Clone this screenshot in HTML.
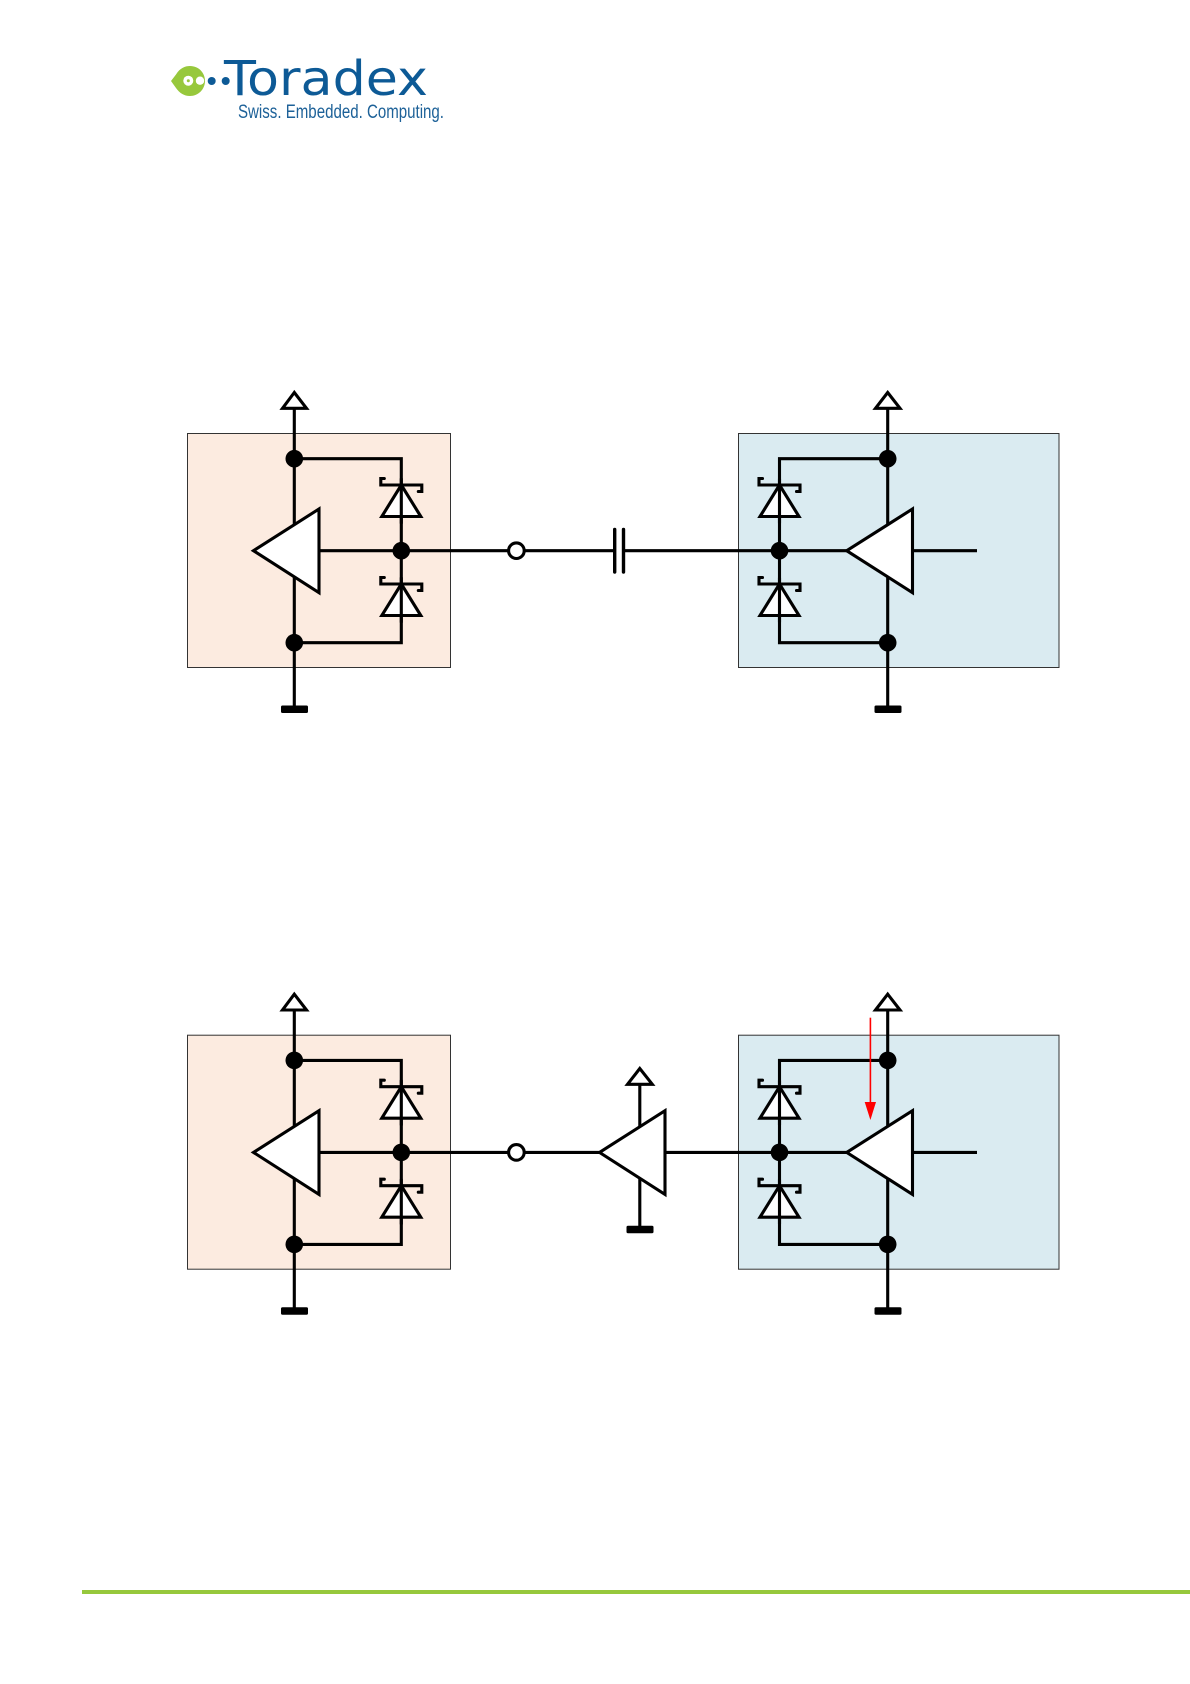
<!DOCTYPE html>
<html><head><meta charset="utf-8"><title>Toradex diagram</title>
<style>html,body{margin:0;padding:0;background:#fff}svg{display:block}</style></head>
<body>
<svg xmlns="http://www.w3.org/2000/svg" width="1190" height="1684" viewBox="0 0 1190 1684">
<defs>
<g id="diode" fill="none" stroke="#000" stroke-width="3.1" stroke-linejoin="miter" stroke-linecap="round">
  <path d="M0 0L-19.500 31.500H19.500Z" fill="#fff" fill-opacity=".95"/>
  <path d="M0 -6V38"/>
  <path d="M-17 -6.500H-20.500V0H20.500V6.500H17"/>
</g>
<g id="left">
  <rect x="187.500" y="433.500" width="263" height="234" fill="#fcebe0" stroke="#333" stroke-width="1"/>
  <g fill="none" stroke="#000" stroke-width="3.100">
    <path d="M294.300 408V706"/>
    <path d="M294.300 458.700H401.300V642.700H294.300"/>
    <path d="M319 550.700H401.300"/>
    <path d="M294.300 392.500L282.500 408.300H306.500Z" fill="#fff" stroke-linejoin="miter"/>
    <path d="M253.500 550.700L319 509V592.700Z" fill="#fff" stroke-linejoin="miter"/>
  </g>
  <use href="#diode" x="401.300" y="485"/>
  <use href="#diode" x="401.300" y="584"/>
  <rect x="281" y="705.500" width="27" height="7.500" rx="1.500" fill="#000"/>
  <circle cx="294.300" cy="458.700" r="8.800"/><circle cx="294.300" cy="642.700" r="8.800"/><circle cx="401.300" cy="550.700" r="8.800"/>
</g>
<g id="right">
  <rect x="738.500" y="433.500" width="320.500" height="234" fill="#daebf1" stroke="#333" stroke-width="1"/>
  <g fill="none" stroke="#000" stroke-width="3.100">
    <path d="M887.700 408V706"/>
    <path d="M887.700 458.700H779.500V642.700H887.700"/>
    <path d="M846.700 550.700H738.500M912.500 550.700H977"/>
    <path d="M887.700 392.500L875.500 408.300H900Z" fill="#fff"/>
    <path d="M846.700 550.700L912.500 509V592.700Z" fill="#fff"/>
  </g>
  <use href="#diode" x="779.500" y="485"/>
  <use href="#diode" x="779.500" y="584"/>
  <rect x="874.500" y="705.500" width="27" height="7.500" rx="1.500" fill="#000"/>
  <circle cx="887.700" cy="458.700" r="8.800"/><circle cx="887.700" cy="642.700" r="8.800"/><circle cx="779.500" cy="550.700" r="8.800"/>
</g>
</defs>

<!-- logo -->
<path d="M171 81L176 74.500C180 68 185 66 190 66C199 66 205 73 205 81C205 89.500 198 96 190 96C184 96 179.500 93 176 88Z" fill="#97c83c"/>
<circle cx="188.300" cy="80.700" r="5" fill="#fff"/>
<circle cx="200" cy="80.700" r="4.200" fill="#fff"/>
<circle cx="188.300" cy="80.700" r="1.500" fill="#97c83c"/>
<circle cx="211.700" cy="81" r="4" fill="#0d5a96"/>
<circle cx="225.700" cy="81" r="4" fill="#0d5a96"/>
<text x="224" y="95" font-family="'DejaVu Sans',sans-serif" font-size="48" fill="#0d5a96" textLength="204" lengthAdjust="spacingAndGlyphs">Toradex</text>
<text x="238" y="118" font-family="'Liberation Sans',sans-serif" font-size="19" fill="#1d6198" textLength="206" lengthAdjust="spacingAndGlyphs">Swiss. Embedded. Computing.</text>

<!-- top circuit -->
<use href="#left"/>
<use href="#right"/>
<g fill="none" stroke="#000" stroke-width="3.100">
  <path d="M401.300 550.700H614.700M623.500 550.700H738.500"/>
  <circle cx="516.400" cy="550.700" r="7.800" fill="#fff"/>
  <path d="M614.700 529.500V572M623.500 529.500V572" stroke-width="3.400" stroke-linecap="round"/>
</g>

<!-- bottom circuit -->
<g transform="translate(0 601.700)">
  <use href="#left"/>
  <use href="#right"/>
  <g fill="none" stroke="#000" stroke-width="3.100">
    <path d="M401.300 550.700H738.500"/>
    <circle cx="516.400" cy="550.700" r="7.800" fill="#fff"/>
    <path d="M639.800 482.500V625"/>
    <path d="M639.800 466.800L627.500 482.600H652.300Z" fill="#fff"/>
    <path d="M599.500 550.700L665 509V592.700Z" fill="#fff"/>
  </g>
  <rect x="626.500" y="624" width="27" height="7.500" rx="1.500" fill="#000"/>
</g>

<!-- red arrow -->
<path d="M870.400 1017.700V1103" stroke="#f00" stroke-width="1.600" fill="none"/>
<path d="M864.700 1102H876L870.400 1120Z" fill="#f00"/>

<!-- footer line -->
<rect x="82" y="1590" width="1108" height="4" fill="#96c83c"/>
</svg>
</body></html>
